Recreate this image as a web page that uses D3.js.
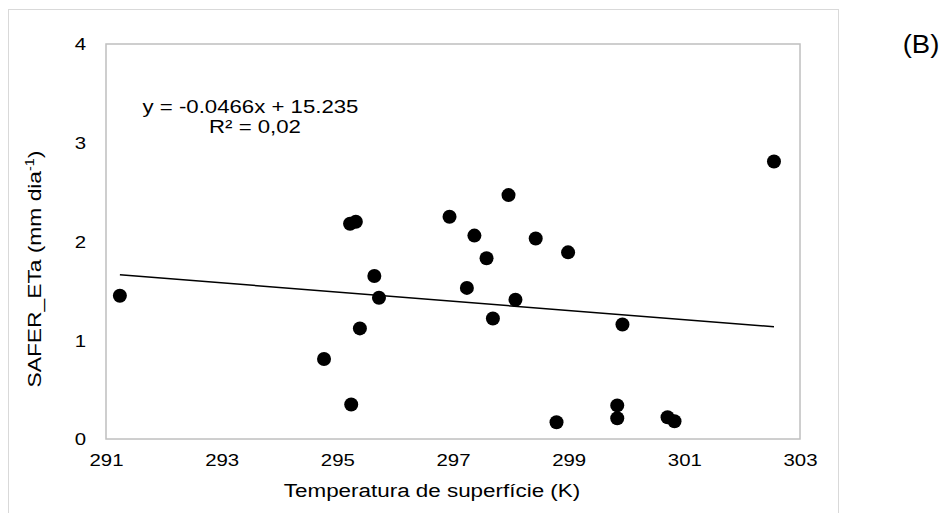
<!DOCTYPE html>
<html>
<head>
<meta charset="utf-8">
<script src="https://cdn.jsdelivr.net/npm/d3@7"></script>
<style>
  body { margin: 0; background: #fff; }
  text { font-family: "Liberation Sans", Arial, sans-serif; fill: #000; }
</style>
</head>
<body>
<div id="holder"></div>
<script>
const w = 948;
const h = 513;

// DATA
const temperature = [291.24, 294.77, 295.22, 295.24, 295.32, 295.39, 295.64, 295.72, 296.94, 297.24, 297.37, 297.58,
    297.69, 297.96, 298.08, 298.43, 298.79, 298.99, 299.84, 299.84, 299.93, 300.71, 300.83, 302.55];
const eta = [1.45, 0.81, 2.18, 0.35, 2.20, 1.12, 1.65, 1.43, 2.25, 1.53, 2.06, 1.83,
    1.22, 2.47, 1.41, 2.03, 0.17, 1.89, 0.34, 0.21, 1.16, 0.22, 0.18, 2.81];
const xTicks = [291, 293, 295, 297, 299, 301, 303];
const yTicks = [0, 1, 2, 3, 4];
const trendSlope = -0.0466;
const trendIntercept = 15.235;
const equationLines = ["y = -0.0466x + 15.235", "R² = 0,02"];

const plot = { left: 106, right: 800, top: 44, bottom: 439 };
const stretch = "scale(1.2,1)";

// CREATE SVG
const svg = d3.select("#holder")
    .append("svg")
    .attr("width", w)
    .attr("height", h)

// outer chart frame
svg.append("rect")
    .attr("x", 8.5).attr("y", 9.5)
    .attr("width", 830).attr("height", 520)
    .attr("fill", "none")
    .attr("stroke", "#d9d9d9")
    .attr("stroke-width", 1)

// SCALES
const x = d3.scaleLinear().domain([291, 303]).range([plot.left, plot.right]);
const y = d3.scaleLinear().domain([0, 4]).range([plot.bottom, plot.top]);

// plot area frame
svg.append("rect")
    .attr("x", plot.left).attr("y", plot.top)
    .attr("width", plot.right - plot.left).attr("height", plot.bottom - plot.top)
    .attr("fill", "none")
    .attr("stroke", "#bfbfbf")
    .attr("stroke-width", 1.5)

// AXES
const xAxis = svg.append("g")
    .attr("transform", `translate(0,${plot.bottom})`)
    .call(d3.axisBottom(x).tickValues(xTicks).tickSize(0).tickFormat(d3.format("d")))
xAxis.select(".domain").remove()
xAxis.selectAll("text")
    .attr("y", 21.5)
    .attr("dy", "0.35em")
    .attr("transform", stretch)
    .style("font-size", "17px")
    .style("font-family", "Liberation Sans, Arial, sans-serif")
    .attr("fill", "#000")

const yAxis = svg.append("g")
    .attr("transform", `translate(${plot.left},0)`)
    .call(d3.axisLeft(y).tickValues(yTicks).tickSize(0).tickFormat(d3.format("d")))
yAxis.select(".domain").remove()
yAxis.selectAll("text")
    .attr("x", -20 / 1.2)
    .attr("dy", "0.35em")
    .attr("transform", stretch)
    .style("font-size", "17px")
    .style("font-family", "Liberation Sans, Arial, sans-serif")
    .attr("fill", "#000")

// TRENDLINE
const xMin = d3.min(temperature), xMax = d3.max(temperature);
svg.append("line")
    .attr("x1", x(xMin)).attr("y1", y(trendSlope * xMin + trendIntercept))
    .attr("x2", x(xMax)).attr("y2", y(trendSlope * xMax + trendIntercept))
    .attr("stroke", "#000")
    .attr("stroke-width", 1.5)

// POINTS
svg.append("g")
    .selectAll("circle")
    .data(temperature.map((t, i) => [t, eta[i]]))
    .enter()
    .append("circle")
    .attr("cx", d => x(d[0]))
    .attr("cy", d => y(d[1]))
    .attr("r", 7)
    .attr("fill", "#000")

// equation label
svg.append("g")
    .selectAll("text")
    .data(equationLines)
    .enter()
    .append("text")
    .attr("transform", (d, i) => `translate(${i ? 255 : 250.5},${112.6 + i * 20}) ${stretch}`)
    .attr("text-anchor", "middle")
    .style("font-size", "18.5px")
    .text(d => d)

// axis titles
svg.append("text")
    .attr("transform", `translate(432,497) scale(1.18,1)`)
    .attr("text-anchor", "middle")
    .style("font-size", "19px")
    .text("Temperatura de superfície (K)")

const yTitle = svg.append("text")
    .attr("transform", `translate(41,269) rotate(-90) ${stretch}`)
    .attr("text-anchor", "middle")
    .style("font-size", "19px")
yTitle.append("tspan").text("SAFER_ETa (mm dia")
yTitle.append("tspan").attr("dy", -7).style("font-size", "12px").text("-1")
yTitle.append("tspan").attr("dy", 7).text(")")

// panel letter
svg.append("text")
    .attr("transform", "translate(921,53) scale(1.1,1)")
    .attr("text-anchor", "middle")
    .style("font-size", "25px")
    .text("(B)")
</script>
</body>
</html>
